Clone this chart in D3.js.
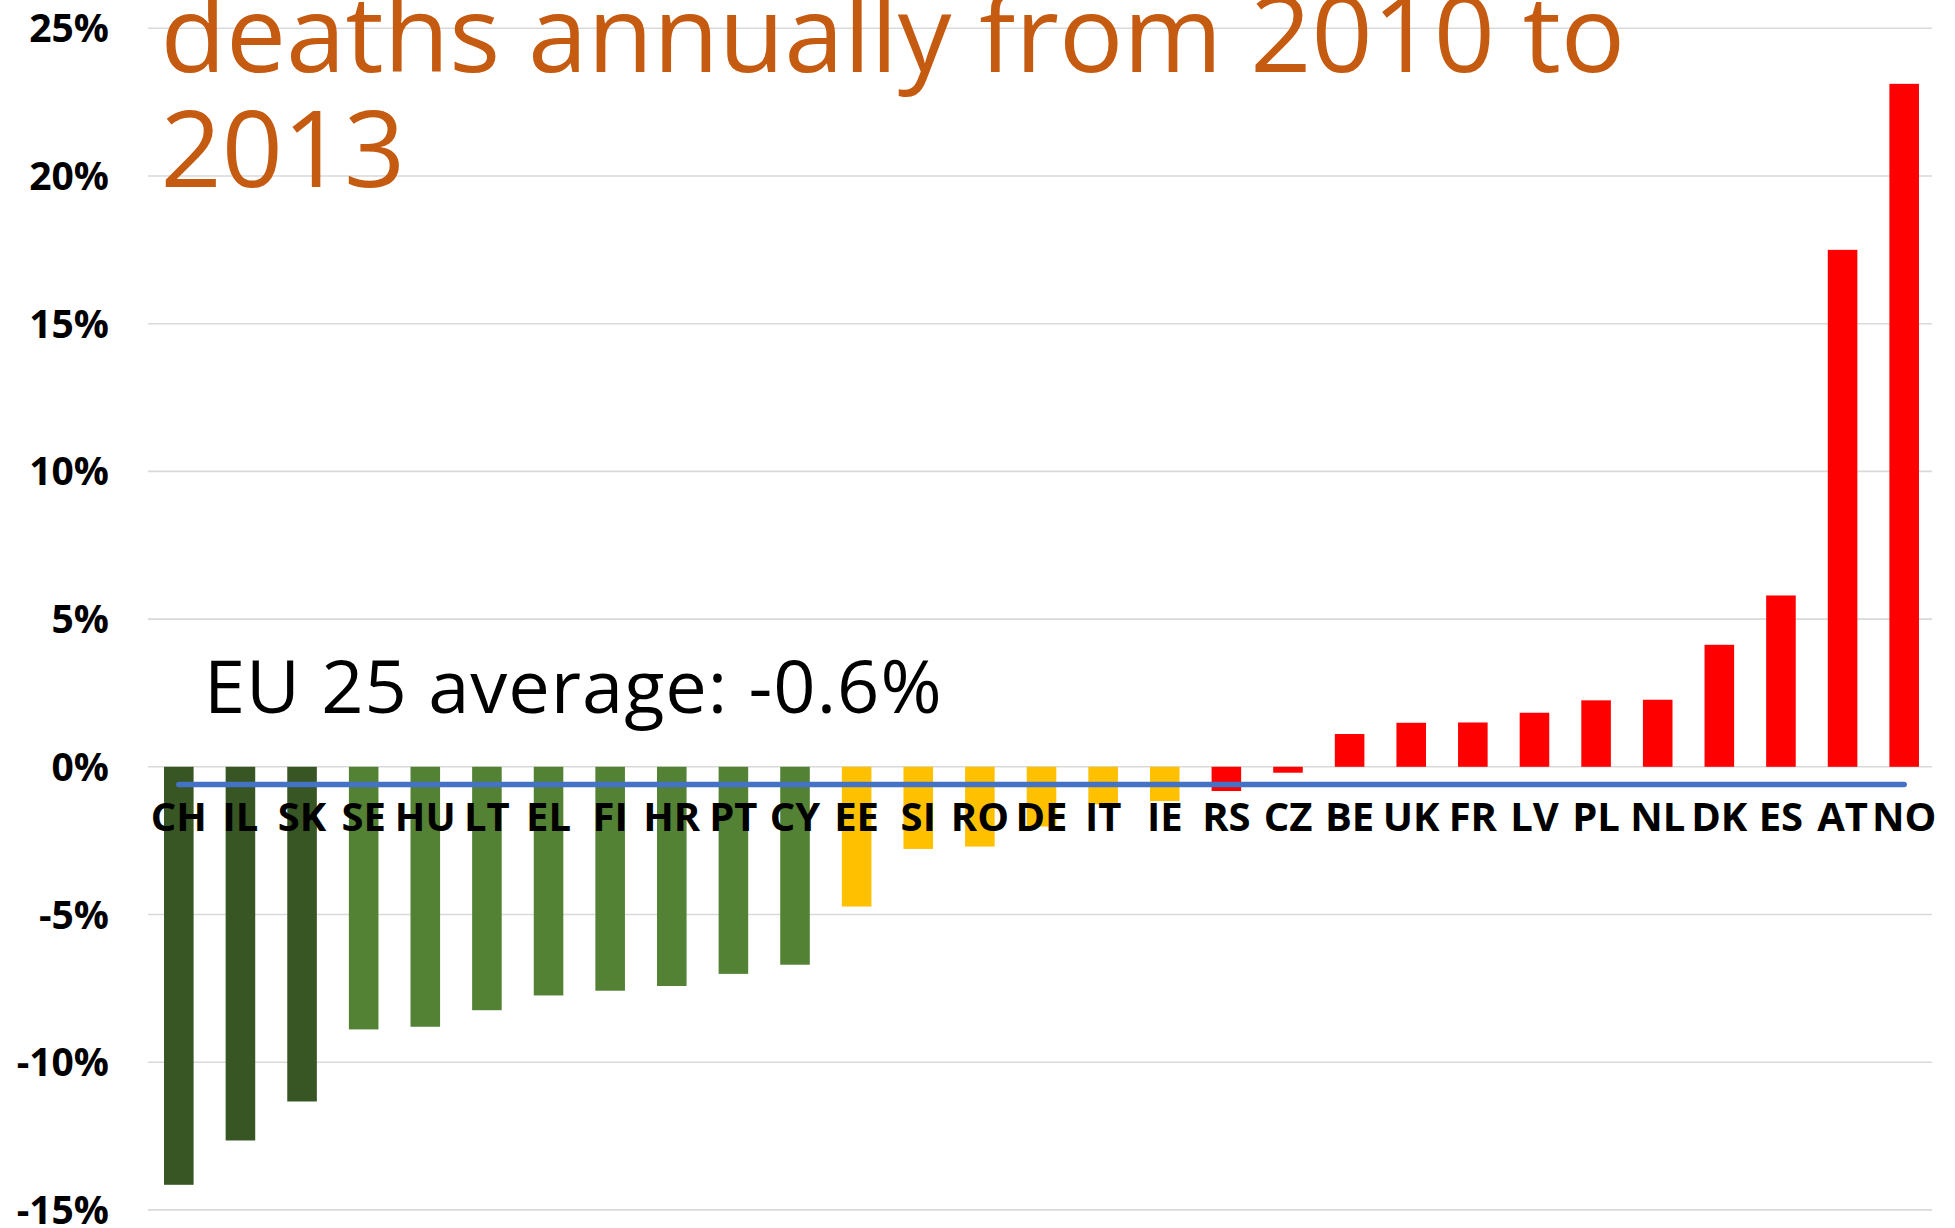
<!DOCTYPE html>
<html>
<head>
<meta charset="utf-8">
<script src="https://cdn.jsdelivr.net/npm/d3@7"></script>
<style>
  html, body { margin: 0; padding: 0; background: #ffffff; }
  svg { display: block; }
</style>
</head>
<body>
<script>
// ---- data ----
const categories = ["CH","IL","SK","SE","HU","LT","EL","FI","HR","PT","CY","EE","SI","RO","DE","IT","IE","RS","CZ","BE","UK","FR","LV","PL","NL","DK","ES","AT","NO"];
const values = [-14.15,-12.65,-11.33,-8.89,-8.80,-8.24,-7.74,-7.58,-7.42,-7.01,-6.70,-4.73,-2.78,-2.70,-2.02,-1.27,-1.16,-0.82,-0.20,1.11,1.49,1.50,1.83,2.25,2.27,4.13,5.80,17.50,23.12];
const groups = ["best","best","best","good","good","good","good","good","good","good","good","mid","mid","mid","mid","mid","mid","bad","bad","bad","bad","bad","bad","bad","bad","bad","bad","bad","bad"];
const yTicks = [-15,-10,-5,0,5,10,15,20,25];
const yTickLabels = ["-15%","-10%","-5%","0%","5%","10%","15%","20%","25%"];
const averageValue = -0.6;
const averageLabel = "EU 25 average: -0.6%";
const titleLines = ["deaths annually from 2010 to", "2013"];

// ---- layout / style ----
const W = 1955, H = 1228;
const groupColor = { best: "#375623", good: "#548235", mid: "#FFC000", bad: "#FF0000" };
const font = "'Open Sans', 'Noto Sans', sans-serif";

const svg = d3.select("body").append("svg")
  .attr("width", W).attr("height", H)
  .attr("viewBox", `0 0 ${W} ${H}`);
svg.append("rect").attr("width", W).attr("height", H).attr("fill", "#fff");

const x = d3.scaleBand().domain(categories).range([148, 1935]).paddingInner(0.52).paddingOuter(0.26);
const y = d3.scaleLinear().domain([-15, 25]).range([1209.9, 28.3]);

// gridlines
svg.append("g").selectAll("line").data(yTicks).join("line")
  .attr("x1", 148).attr("x2", 1932)
  .attr("y1", d => y(d)).attr("y2", d => y(d))
  .attr("stroke", "#D9D9D9").attr("stroke-width", 1.6);

// y tick labels
svg.append("g").selectAll("text").data(yTicks).join("text")
  .attr("x", 109).attr("y", d => y(d))
  .attr("dy", "0.36em")
  .attr("text-anchor", "end")
  .attr("font-family", font).attr("font-weight", 700).attr("font-size", 39)
  .attr("fill", "#000")
  .text((d, i) => yTickLabels[i]);

// bars
const data = categories.map((c, i) => ({ c, v: values[i], g: groups[i] }));
svg.append("g").selectAll("rect").data(data).join("rect")
  .attr("x", d => x(d.c))
  .attr("width", x.bandwidth())
  .attr("y", d => y(Math.max(0, d.v)))
  .attr("height", d => Math.abs(y(d.v) - y(0)))
  .attr("fill", d => groupColor[d.g]);

// average line
const firstC = categories[0], lastC = categories[categories.length - 1];
svg.append("line")
  .attr("x1", x(firstC) + x.bandwidth() / 2)
  .attr("x2", x(lastC) + x.bandwidth() / 2)
  .attr("y1", y(averageValue)).attr("y2", y(averageValue))
  .attr("stroke", "#4472C4").attr("stroke-width", 5.5)
  .attr("stroke-linecap", "round");

// category labels
svg.append("g").selectAll("text").data(categories).join("text")
  .attr("x", d => x(d) + x.bandwidth() / 2)
  .attr("y", 831)
  .attr("text-anchor", "middle")
  .attr("font-family", font).attr("font-weight", 700).attr("font-size", 40)
  .attr("fill", "#000")
  .text(d => d);

// average annotation
svg.append("text")
  .attr("x", 204).attr("y", 713)
  .attr("font-family", font).attr("font-size", 74)
  .attr("letter-spacing", 1)
  .attr("fill", "#000")
  .text(averageLabel);

// title
svg.append("g").selectAll("text").data(titleLines).join("text")
  .attr("x", 160.5)
  .attr("y", (d, i) => 71.7 + i * 115.5)
  .attr("font-family", font).attr("font-size", 107)
  .attr("fill", "#C55A11")
  .text(d => d);
</script>
</body>
</html>
